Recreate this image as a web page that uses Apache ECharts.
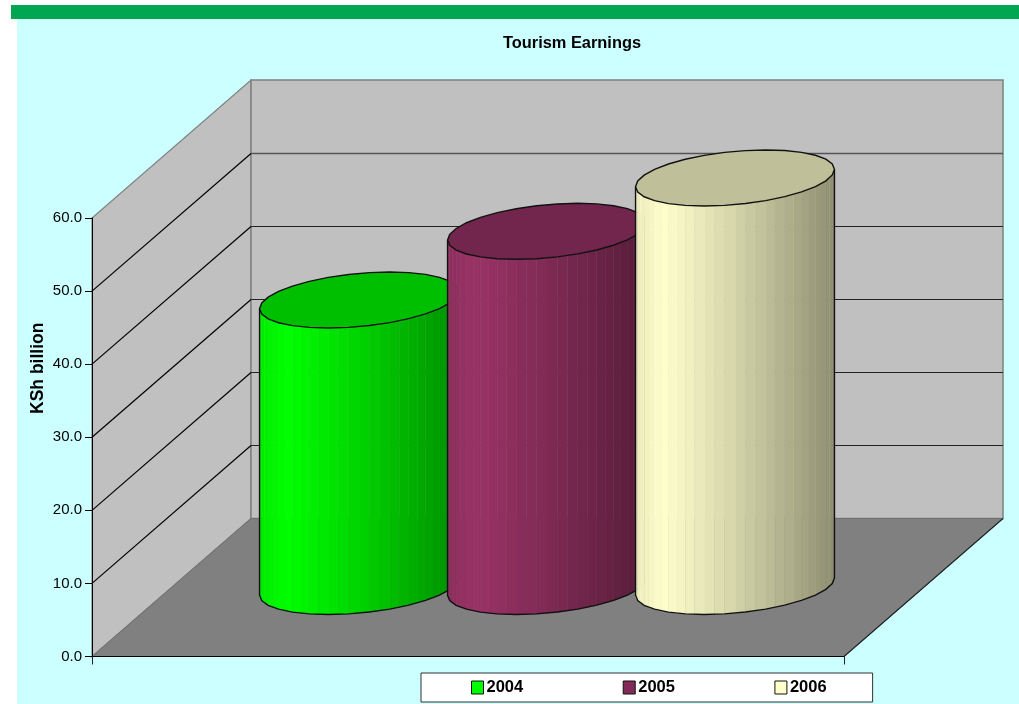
<!DOCTYPE html>
<html>
<head>
<meta charset="utf-8">
<style>html,body{margin:0;padding:0;background:#fff}#c{width:1019px;height:704px}</style>
<script src="https://cdn.jsdelivr.net/npm/echarts@6/dist/echarts.min.js"></script>
</head>
<body>
<div id="c"></div>
<script>
var years = ['2004', '2005', '2006'];
var earnings = [39.2, 48.6, 55.9];
var yTicks = [0, 10, 20, 30, 40, 50, 60];
var baseColors = [[0, 255, 0], [153, 51, 102], [255, 255, 204]];

var DX = 159, DY = -138;          // depth of the 3D box
var SPACING = 188;                // cluster spacing of the cylinders
var RA = 94.5, RS = 31, RB = 28;  // ellipse shape

function shade(c, f) {
  return 'rgb(' + c.map(function (v) { return Math.round(v * f); }).join(',') + ')';
}
function bodyFactor(u) {
  var s = [[0, .92], [.14, 1], [.5, .83], [1, .56]];
  for (var i = 1; i < s.length; i++) {
    if (u <= s[i][0]) {
      return s[i - 1][1] + (s[i][1] - s[i - 1][1]) * (u - s[i - 1][0]) / (s[i][0] - s[i - 1][0]);
    }
  }
  return s[s.length - 1][1];
}
function ell(cx, cy, t) {
  return [cx + RA * Math.cos(t) + RS * Math.sin(t), cy - RB * Math.sin(t)];
}

function renderWalls(params, api) {
  var v = api.value(0);
  var maxV = yTicks[yTicks.length - 1];
  var p0 = api.coord([0, 0]), pT = api.coord([0, maxV]), p = api.coord([0, v]);
  var size = api.size([1, 0]);
  var xL = p0[0] - size[0] / 2, xR = p0[0] + size[0] / 2, yB = p0[1], yT = pT[1], y = p[1];
  var kids = [];
  if (params.dataIndex === 0) {
    kids.push({ type: 'polygon', shape: { points: [[xL, yB], [xL + DX, yB + DY], [xL + DX, yT + DY], [xL, yT]] },
      style: { fill: '#C0C0C0', stroke: '#808080', lineWidth: 1.2 } });
    kids.push({ type: 'polygon', shape: { points: [[xL + DX, yB + DY], [xR + DX, yB + DY], [xR + DX, yT + DY], [xL + DX, yT + DY]] },
      style: { fill: '#C0C0C0', stroke: '#808080', lineWidth: 1.5 } });
    kids.push({ type: 'polygon', shape: { points: [[xL, yB], [xR, yB], [xR + DX, yB + DY], [xL + DX, yB + DY]] },
      style: { fill: '#808080', stroke: '#707070', lineWidth: 1 } });
    kids.push({ type: 'line', shape: { x1: xR, y1: yB, x2: xR + DX, y2: yB + DY }, style: { stroke: '#222', lineWidth: 1.1 } });
  } else if (v !== maxV) {
    var yb = Math.round(y + DY) + 0.5;
    kids.push({ type: 'line', shape: { x1: xL, y1: y, x2: xL + DX, y2: yb },
      style: { stroke: '#000', lineWidth: 1.2 } });
    kids.push({ type: 'line', shape: { x1: xL + DX, y1: yb, x2: xR + DX, y2: yb },
      style: { stroke: v === 50 ? '#555' : '#222', lineWidth: v === 50 ? 1.5 : 1.2 } });
  }
  return { type: 'group', children: kids };
}

function renderCylinder(idx) {
  return function (params, api) {
    var base = api.coord([0, 0]), top = api.coord([0, api.value(1)]);
    var cx = base[0] + DX / 2 + (idx - 1) * SPACING - 0.5;
    var cyB = base[1] + DY / 2 - 1, cyT = top[1] + DY / 2 - 1;
    var R = Math.sqrt(RA * RA + RS * RS), t0 = Math.PI + Math.atan(RS / RA), N = 30, kids = [];
    var color = baseColors[idx];
    for (var i = 0; i < N; i++) {
      var a = t0 + Math.PI * i / N, b = t0 + Math.PI * (i + 1) / N;
      var pa = ell(cx, cyB, a), pb = ell(cx, cyB, b), qa = ell(cx, cyT, a), qb = ell(cx, cyT, b);
      var u = ((pa[0] + pb[0]) / 2 - (cx - R)) / (2 * R);
      var fill = shade(color, bodyFactor(u));
      kids.push({ type: 'polygon', shape: { points: [pa, pb, qb, qa] }, style: { fill: fill, stroke: fill, lineWidth: 0.4 } });
      if (i > 0 && i % 3 === 0) {
        kids.push({ type: 'line', shape: { x1: pa[0], y1: pa[1], x2: qa[0], y2: qa[1] },
          style: { stroke: shade(color, Math.min(1, bodyFactor(u) + .06)), lineWidth: 0.6 } });
      }
    }
    var SEG = 30, sil = [], topPts = [];
    for (var j = 0; j <= SEG / 2; j++) sil.push(ell(cx, cyB, t0 + 2 * Math.PI * j / SEG));
    for (var k = 0; k < SEG; k++) topPts.push(ell(cx, cyT, t0 + 2 * Math.PI * k / SEG));
    sil.unshift(ell(cx, cyT, t0));
    sil.push(ell(cx, cyT, t0 + Math.PI));
    kids.push({ type: 'polyline', shape: { points: sil }, style: { fill: 'none', stroke: '#111', lineWidth: 1.4 } });
    kids.push({ type: 'polygon', shape: { points: topPts }, style: { fill: shade(color, .75), stroke: '#111', lineWidth: 1.4 } });
    return { type: 'group', children: kids };
  };
}

var series = [{
  type: 'custom', name: 'walls', silent: true, coordinateSystem: 'cartesian2d',
  data: yTicks.map(function (v) { return [v]; }),
  encode: { y: 0 }, renderItem: renderWalls, animation: false
}];
years.forEach(function (y, i) {
  series.push({
    type: 'custom', name: y, coordinateSystem: 'cartesian2d',
    itemStyle: { color: shade(baseColors[i], 1) },
    data: [[0, earnings[i]]], encode: { x: 0, y: 1 },
    renderItem: renderCylinder(i), animation: false
  });
});

var FONT = '"Liberation Sans", Arial, sans-serif';
var chart = echarts.init(document.getElementById('c'), null, { renderer: 'canvas' });
chart.setOption({
  animation: false,
  backgroundColor: '#fff',
  graphic: [
    { type: 'rect', z: -10, shape: { x: 17, y: 19, width: 1002, height: 685 }, style: { fill: '#CCFFFF' } },
    { type: 'rect', z: -10, shape: { x: 11, y: 5, width: 1008, height: 14 }, style: { fill: '#00A651' } }
  ],
  title: {
    text: 'Tourism Earnings', left: 572, top: 35, textAlign: 'center', padding: 0,
    textStyle: { fontFamily: FONT, fontWeight: 'bold', fontSize: 16.4, color: '#000' }
  },
  legend: {
    data: years.map(function (y, i) {
      return { name: y, icon: 'rect', itemStyle: { color: shade(baseColors[i], i === 1 ? .85 : 1), borderColor: '#111', borderWidth: 1 } };
    }),
    left: 421, top: 673, orient: 'horizontal',
    itemWidth: 12, itemHeight: 13, itemGap: 99.5,
    padding: [6, 46, 6, 50],
    backgroundColor: '#fff', borderColor: '#333', borderWidth: 1,
    selectedMode: false,
    textStyle: { fontFamily: FONT, fontWeight: 'bold', fontSize: 16.5, color: '#000', padding: [0, 0, 0, -2] }
  },
  grid: { left: 92, top: 218, width: 752, height: 438.5, containLabel: false },
  xAxis: {
    type: 'category', data: [''], z: 10,
    axisLine: { lineStyle: { color: '#000', width: 1 } },
    axisTick: { show: true, length: 8, alignWithLabel: false, lineStyle: { color: '#222' } },
    axisLabel: { show: false }, splitLine: { show: false }
  },
  yAxis: {
    type: 'value', min: 0, max: 60, interval: 10, z: 10,
    name: 'KSh billion', nameLocation: 'middle', nameGap: 45, nameRotate: 90, nameMoveOverlap: false,
    nameTextStyle: { fontFamily: FONT, fontWeight: 'bold', fontSize: 17.5, color: '#000', padding: [0, 0, 0, 138] },
    axisLine: { show: true, lineStyle: { color: '#000', width: 1 } },
    axisTick: { show: true, length: 7, lineStyle: { color: '#000' } },
    axisLabel: { fontFamily: FONT, fontSize: 15, color: '#000', margin: 10,
      formatter: function (v) { return v.toFixed(1); } },
    splitLine: { show: false }
  },
  series: series
});
</script>
</body>
</html>
